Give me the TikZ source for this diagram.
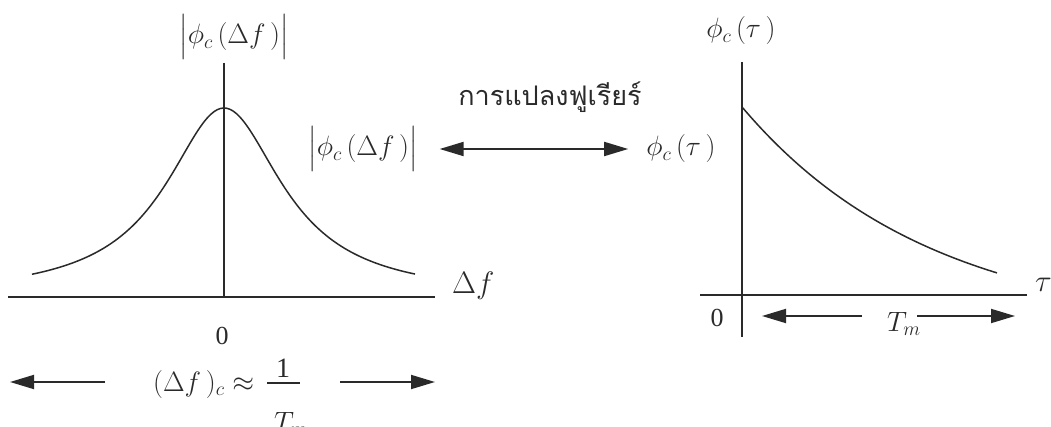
\RequirePackage{fix-cm}
\documentclass[tikz,border=0pt]{standalone}
\usepackage{fontspec}
\usepackage{amsmath}
\setmainfont{Liberation Serif}
\newfontfamily\thaifont[Script=Thai]{Loma}
\usetikzlibrary{arrows.meta}
\definecolor{ink}{HTML}{2A2A2A}
\tikzset{
  axis/.style={line width=1.8pt, draw=ink},
  curve/.style={line width=1.5pt, draw=ink},
  fracbar/.style={line width=1.2pt, draw=ink},
  arr/.style={line width=1.8pt, draw=ink, fill=ink, -{Triangle[length=24pt,width=14pt]}},
  dblarr/.style={line width=1.8pt, draw=ink, fill=ink, {Triangle[length=24pt,width=14pt]}-{Triangle[length=24pt,width=14pt]}},
  lbl/.style={font=\fontsize{28}{32}\selectfont, inner sep=0pt, text=ink},
  axlbl/.style={font=\fontsize{31}{36}\selectfont, inner sep=0pt, text=ink},
  zero/.style={font=\fontsize{26}{30}\selectfont, inner sep=0pt, text=ink},
  thai/.style={font=\thaifont\fontsize{27}{32}\selectfont, inner sep=0pt, text=ink}
}
\begin{document}
\begin{tikzpicture}[x=1pt,y=-1pt]
\useasboundingbox (0,0) rectangle (1051,427);
% ---------- left plot ----------
\coordinate (LvT) at (224,63);
\coordinate (Lo) at (224,297);
\coordinate (LhL) at (8,297);
\coordinate (LhR) at (435,297);
\draw[axis] (LhL) -- (LhR);
\draw[axis] (LvT) -- (Lo);
\draw[curve] plot[domain=-192:191, samples=121, smooth] ({224+\x},{297-189/(1+(\x/71)^2)});
\node[lbl] (Ltop) at (234,37) {$\big|\phi_{c}\,(\Delta f\,)\big|$};
\node[axlbl, anchor=base west] (Ldf) at (452,294) {$\Delta f$};
\node[zero] (Lzero) at (222,336) {0};
\node[lbl, anchor=base west] (bw) at (153,391) {$(\Delta f\,)_{c}\approx$};
\node[lbl, anchor=base] (bnum) at (283,377) {1};
\node[lbl, anchor=base west] (bden) at (274,431) {$T_m$};
\coordinate (fb1) at (267,383);
\coordinate (fb2) at (300,383);
\draw[fracbar] (fb1) -- (fb2);
\coordinate (bL1) at (105,382);
\coordinate (bL2) at (10,382);
\coordinate (bR1) at (340,382);
\coordinate (bR2) at (435,382);
\draw[arr] (bL1) -- (bL2);
\draw[arr] (bR1) -- (bR2);
% ---------- middle ----------
\node[lbl] (Lmid) at (363,149) {$\big|\phi_{c}\,(\Delta f\,)\big|$};
\node[lbl] (Rmid) at (681,149) {$\phi_{c}\,(\tau\,)$};
\draw[dblarr, shorten <=22pt, shorten >=18pt] (Lmid.east) -- (Rmid.west);
\node[thai] (ft) at (550,97) {การแปลงฟูเรียร์};
% ---------- right plot ----------
\coordinate (RvT) at (742,62);
\coordinate (RvB) at (742,337);
\coordinate (RhL) at (700,295);
\coordinate (RhR) at (1027,295);
\draw[axis] (RhL) -- (RhR);
\draw[axis] (RvT) -- (RvB);
\draw[curve] plot[domain=0:255, samples=80, smooth] ({742+\x},{295-(224.6*exp(-\x/190)-36.6)});
\node[lbl] (Rtop) at (741,31) {$\phi_{c}\,(\tau\,)$};
\node[axlbl, anchor=base west] (Rtau) at (1035,292) {$\tau$};
\node[zero] (Rzero) at (717,318) {0};
\node[lbl, anchor=base west] (Tm) at (887,331) {$T_m$};
\coordinate (tL1) at (862,316);
\coordinate (tL2) at (762,316);
\coordinate (tR1) at (917,316);
\coordinate (tR2) at (1015,316);
\draw[arr] (tL1) -- (tL2);
\draw[arr] (tR1) -- (tR2);
\end{tikzpicture}
\end{document}
